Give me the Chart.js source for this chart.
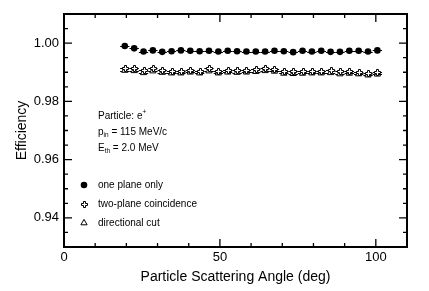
<!DOCTYPE html>
<html>
<head>
<meta charset="utf-8">
<script src="https://cdn.jsdelivr.net/npm/chart.js@4.4.0/dist/chart.umd.min.js"></script>
<style>
  html, body { margin: 0; padding: 0; background: #fff; }
</style>
</head>
<body>
<canvas id="eff" width="429" height="291"></canvas>
<script>
// ---- data ----
const angles = [19.5, 22.5, 25.5, 28.5, 31.5, 34.5, 37.5, 40.5, 43.5, 46.5, 49.5, 52.5, 55.5, 58.5,
                61.5, 64.5, 67.5, 70.5, 73.5, 76.5, 79.5, 82.5, 85.5, 88.5, 91.5, 94.5, 97.5, 100.5];
const binHalf = 1.5;

const onePlane = [0.9990, 0.9982, 0.9971, 0.9975, 0.9970, 0.9972, 0.9975, 0.9974, 0.9972, 0.9974,
                  0.9971, 0.9974, 0.9972, 0.9971, 0.9971, 0.9971, 0.9974, 0.9972, 0.9969, 0.9974,
                  0.9971, 0.9974, 0.9970, 0.9970, 0.9974, 0.9974, 0.9971, 0.9975];
const twoPlane = [0.9914, 0.9913, 0.9909, 0.9913, 0.9909, 0.9906, 0.9906, 0.9909, 0.9906, 0.9913,
                  0.9906, 0.9909, 0.9908, 0.9909, 0.9911, 0.9914, 0.9912, 0.9905, 0.9906, 0.9905,
                  0.9906, 0.9906, 0.9907, 0.9904, 0.9906, 0.9902, 0.9898, 0.9901];
const directional = [0.9906, 0.9905, 0.9898, 0.9904, 0.9899, 0.9897, 0.9897, 0.9900, 0.9897, 0.9904,
                     0.9897, 0.9900, 0.9899, 0.9900, 0.9902, 0.9905, 0.9903, 0.9896, 0.9895, 0.9896,
                     0.9897, 0.9897, 0.9898, 0.9894, 0.9896, 0.9894, 0.9890, 0.9893];

const xMajorTicks = [0, 50, 100];
const xMinorTicks = [10, 20, 30, 40, 60, 70, 80, 90, 110];
const yMajorTicks = [0.94, 0.96, 0.98, 1.00];
const yMinorTicks = [0.935, 0.945, 0.95, 0.955, 0.965, 0.97, 0.975, 0.985, 0.99, 0.995, 1.005];

const seriesNames = ['one plane only', 'two-plane coincidence', 'directional cut'];
const FONT = "'Liberation Sans', Arial, Helvetica, sans-serif";

// hollow plus marker (ROOT-style open cross), snapped to whole pixels
function drawHollowCross(ctx, cx, cy) {
  const x = Math.round(cx) - 3, y = Math.round(cy) - 3;
  const p = [[2.5,0.5],[4.5,0.5],[4.5,2.5],[6.5,2.5],[6.5,4.5],[4.5,4.5],
             [4.5,6.5],[2.5,6.5],[2.5,4.5],[0.5,4.5],[0.5,2.5],[2.5,2.5]];
  ctx.beginPath();
  p.forEach(([px, py], i) => i ? ctx.lineTo(x + px, y + py) : ctx.moveTo(x + px, y + py));
  ctx.closePath();
  ctx.fillStyle = '#fff'; ctx.fill();
  ctx.strokeStyle = '#000'; ctx.lineWidth = 1; ctx.stroke();
}

const markers = [
  { pointStyle: 'circle',   radius: 3.3, borderWidth: 0, fill: '#000' },
  { pointStyle: 'cross',    radius: 0,   borderWidth: 0, fill: '#fff' },   // drawn by crossMarks
  { pointStyle: 'triangle', radius: 3.6, borderWidth: 1, fill: '#fff' },
];

const pts = vals => angles.map((a, i) => ({ x: a, y: vals[i] }));

// horizontal bin-width bars under the markers
const binBars = {
  id: 'binBars',
  beforeDatasetsDraw(chart) {
    const { ctx, scales: { x, y } } = chart;
    ctx.save();
    ctx.strokeStyle = '#000';
    ctx.lineWidth = 1;
    [onePlane, twoPlane, directional].forEach(vals => {
      angles.forEach((a, i) => {
        const py = Math.round(y.getPixelForValue(vals[i])) + 0.5;
        ctx.beginPath();
        ctx.moveTo(x.getPixelForValue(a - binHalf), py);
        ctx.lineTo(x.getPixelForValue(a + binHalf), py);
        ctx.stroke();
      });
    });
    ctx.restore();
  }
};

// open crosses for the two-plane dataset, at the element positions Chart.js computed
const crossMarks = {
  id: 'crossMarks',
  afterDatasetsDraw(chart) {
    const { ctx } = chart;
    ctx.save();
    chart.getDatasetMeta(1).data.forEach(el => drawHollowCross(ctx, el.x, el.y));
    ctx.restore();
  }
};

// frame with inward ticks on all four sides
const frame = {
  id: 'frame',
  afterDraw(chart) {
    const { ctx, chartArea: { left, right, top, bottom }, scales: { x, y } } = chart;
    ctx.save();
    ctx.strokeStyle = '#000';
    ctx.lineWidth = 1.3;
    const xt = (v, len) => {
      const px = x.getPixelForValue(v);
      ctx.beginPath();
      ctx.moveTo(px, bottom); ctx.lineTo(px, bottom - len);
      ctx.moveTo(px, top);    ctx.lineTo(px, top + len);
      ctx.stroke();
    };
    const yt = (v, len) => {
      const py = y.getPixelForValue(v);
      ctx.beginPath();
      ctx.moveTo(left, py);  ctx.lineTo(left + len, py);
      ctx.moveTo(right, py); ctx.lineTo(right - len, py);
      ctx.stroke();
    };
    xMajorTicks.forEach(v => xt(v, 8));
    xMinorTicks.forEach(v => xt(v, 4));
    yMajorTicks.forEach(v => yt(v, 8));
    yMinorTicks.forEach(v => yt(v, 4));
    ctx.lineWidth = 2;
    ctx.strokeRect(left, top, right - left, bottom - top);
    ctx.restore();
  }
};

// text with sub/superscripts: parts = [[text, 'sub'|'sup'|undefined], ...]
function richText(ctx, parts, x, y, size) {
  let cx = x;
  parts.forEach(([t, kind]) => {
    const s = kind ? size * 0.65 : size;
    ctx.font = `${s}px ${FONT}`;
    const dy = kind === 'sub' ? size * 0.3 : kind === 'sup' ? -size * 0.35 : 0;
    ctx.fillText(t, cx, y + dy);
    cx += ctx.measureText(t).width;
  });
}

const notes = {
  id: 'notes',
  afterDatasetsDraw(chart) {
    const { ctx, chartArea: { left, top } } = chart;
    ctx.save();
    ctx.fillStyle = '#000';
    ctx.textBaseline = 'middle';
    ctx.textAlign = 'left';
    const tx = left + 34;
    richText(ctx, [['Particle: e'], ['+', 'sup']], tx, top + 102, 10);
    richText(ctx, [['p'], ['in', 'sub'], [' = 115 MeV/c']], tx, top + 118, 10);
    richText(ctx, [['E'], ['th', 'sub'], [' = 2.0 MeV']], tx, top + 134, 10);

    const rows = [top + 171, top + 190, top + 209];
    seriesNames.forEach((name, i) => {
      const m = markers[i];
      const mx = left + 20;
      if (i === 1) {
        drawHollowCross(ctx, mx, rows[i]);
      } else {
        ctx.fillStyle = m.fill;
        ctx.strokeStyle = '#000';
        ctx.lineWidth = m.borderWidth;
        Chart.helpers.drawPoint(ctx, { pointStyle: m.pointStyle, radius: m.radius, borderWidth: m.borderWidth, rotation: 0 }, mx, rows[i]);
      }
      ctx.fillStyle = '#000';
      ctx.font = `10px ${FONT}`;
      ctx.fillText(name, tx, rows[i]);
    });
    ctx.restore();
  }
};

const ds = (label, vals, m) => ({
  label,
  data: pts(vals),
  showLine: false,
  pointStyle: m.pointStyle,
  pointRadius: m.radius,
  pointHoverRadius: m.radius,
  pointBackgroundColor: m.fill,
  pointBorderColor: '#000',
  pointBorderWidth: m.borderWidth,
});

new Chart(document.getElementById('eff').getContext('2d'), {
  type: 'scatter',
  data: {
    datasets: [
      ds(seriesNames[0], onePlane, markers[0]),
      ds(seriesNames[1], twoPlane, markers[1]),
      ds(seriesNames[2], directional, markers[2]),
    ]
  },
  options: {
    responsive: false,
    devicePixelRatio: 1,
    animation: false,
    layout: { padding: { left: 0, right: 22, top: 14, bottom: 0 } },
    plugins: { legend: { display: false }, tooltip: { enabled: false } },
    scales: {
      x: {
        type: 'linear', min: 0, max: 110,
        afterBuildTicks: s => { s.ticks = xMajorTicks.map(v => ({ value: v })); },
        afterFit: s => { s.height = 44; },
        grid: { display: false, drawTicks: false },
        border: { display: false },
        ticks: { padding: 3, color: '#000', font: { family: FONT, size: 13 }, maxRotation: 0, autoSkip: false },
        title: { display: true, text: 'Particle Scattering Angle (deg)', color: '#000',
                 font: { family: FONT, size: 14 }, padding: { top: 0, bottom: 5 } }
      },
      y: {
        type: 'linear', min: 0.93, max: 1.01,
        afterBuildTicks: s => { s.ticks = yMajorTicks.map(v => ({ value: v })); },
        afterFit: s => { s.width = 64; },
        grid: { display: false, drawTicks: false },
        border: { display: false },
        ticks: { padding: 5, color: '#000', font: { family: FONT, size: 13 }, autoSkip: false,
                 callback: v => v.toFixed(2) },
        title: { display: true, text: 'Efficiency', color: '#000',
                 font: { family: FONT, size: 14 }, padding: { top: 14, bottom: 0 } }
      }
    }
  },
  plugins: [binBars, notes, crossMarks, frame]
});
</script>
</body>
</html>
